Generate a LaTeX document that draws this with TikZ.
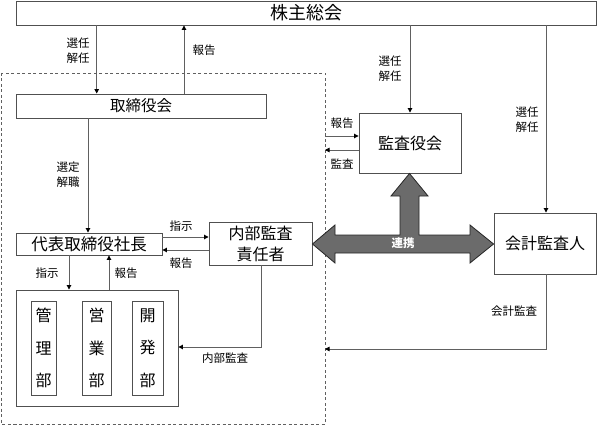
\documentclass[tikz,border=0pt]{standalone}
\usepackage{fontspec}
\setmainfont{Noto Sans CJK JP}
\usetikzlibrary{arrows.meta}
\definecolor{linegray}{HTML}{606060}
\definecolor{boxgray}{HTML}{505050}
\definecolor{bigarrow}{HTML}{6B6B6B}
\tikzset{
  box/.style={draw=boxgray, line width=0.9pt, fill=white, inner sep=0pt},
  conn/.style={draw=linegray, line width=0.9pt},
  arr/.style={conn, -{Triangle[length=4.5pt,width=4.5pt,color=black]}},
  lbl/.style={font=\fontsize{11.5}{15}\selectfont, inner sep=0pt, align=left},
  boxtext/.style={font=\fontsize{16}{19}\selectfont},
  dept/.style={box, minimum height=94pt, align=center, font=\fontsize{16}{32.5}\selectfont},
}
\begin{document}
\begin{tikzpicture}[x=1pt,y=-1pt]
\useasboundingbox (0,0) rectangle (597,425);
% dashed company frame
\draw[draw=linegray, line width=0.8pt, dash pattern=on 3pt off 2.5pt] (1.5,73) rectangle (325,424);
% boxes
\node[box, minimum width=580pt, minimum height=24pt, font=\fontsize{18}{20}\selectfont] (soukai) at (306,13) {株主総会};
\node[box, minimum width=250pt, minimum height=24pt, font=\fontsize{15.5}{18}\selectfont] (tori) at (141,106) {取締役会};
\node[box, minimum width=146pt, minimum height=22pt, font=\fontsize{16.5}{18}\selectfont] (daihyo) at (89,244) {代表取締役社長};
\node[box, minimum width=103pt, minimum height=43pt, align=center, font=\fontsize{16}{21}\selectfont] (naibu) at (260.5,243.5) {内部監査\\責任者};
\node[box, minimum width=102pt, minimum height=60pt, boxtext] (kansa) at (410,143) {監査役会};
\node[box, minimum width=102pt, minimum height=61pt, boxtext] (kaikei) at (545,243.5) {会計監査人};
\node[box, minimum width=162pt, minimum height=116pt] (bumon) at (97,348) {};
\node[dept, minimum width=25pt] (kanri) at (43.5,348) {管\\理\\部};
\node[dept, minimum width=29pt] (eigyo) at (96.5,348) {営\\業\\部};
\node[dept, minimum width=31pt] (kaihatsu) at (147.5,348) {開\\発\\部};
% connectors
\draw[arr] (soukai.south -| 96.7,0) -- (tori.north -| 96.7,0);
\draw[arr] (tori.north -| 184,0) -- (soukai.south -| 184,0);
\node[lbl] (l1) at (78,50.5) {選任\\解任};
\node[lbl] (l2) at (204,50) {報告};
\draw[arr] (tori.south -| 88,0) -- (daihyo.north -| 88,0);
\node[lbl] (l3) at (68,175) {選定\\解職};
\draw[arr] (daihyo.east |- 0,237) -- (naibu.west |- 0,237);
\draw[arr] (naibu.west |- 0,250) -- (daihyo.east |- 0,250);
\node[lbl] (l4) at (181,226) {指示};
\node[lbl] (l5) at (181,263) {報告};
\draw[arr] (daihyo.south -| 69,0) -- (bumon.north -| 69,0);
\draw[arr] (bumon.north -| 109,0) -- (daihyo.south -| 109,0);
\node[lbl] (l6) at (47,273) {指示};
\node[lbl] (l7) at (126,273) {報告};
\draw[arr] (naibu.south -| 261,0) -- (261,347) -- (bumon.east |- 0,347);
\node[lbl] (l8) at (225,358) {内部監査};
\draw[arr] (soukai.south -| 410,0) -- (kansa.north -| 410,0);
\node[lbl] (l9) at (390,69) {選任\\解任};
\draw[arr] (soukai.south -| 546,0) -- (kaikei.north -| 546,0);
\node[lbl] (l10) at (527,120) {選任\\解任};
\coordinate (frameR1) at (325,136);
\coordinate (frameR2) at (325,150);
\coordinate (frameR3) at (325,349);
\draw[arr] (frameR1) -- (kansa.west |- frameR1);
\draw[arr] (kansa.west |- frameR2) -- (frameR2);
\node[lbl] (l11) at (342,123) {報告};
\node[lbl] (l12) at (342,164) {監査};
\draw[arr] (kaikei.south -| 546,0) -- (546,349) -- (frameR3);
\node[lbl] (l13) at (514,311) {会計監査};
% cooperation arrow
\draw[fill=bigarrow, draw=black!85, line width=0.8pt, line join=miter]
  (naibu.east |- 0,244) -- (335,225) -- (335,235) -- (400,235) -- (400,196) -- (391,196)
  -- (kansa.south -| 409.5,0) -- (428,196) -- (419,196) -- (419,235) -- (470,235) -- (470,225)
  -- (kaikei.west |- 0,244) -- (470,263) -- (470,253) -- (335,253) -- (335,263) -- cycle;
\node[font=\fontsize{11.5}{12}\selectfont\bfseries, text=white, inner sep=0pt] (renkei) at (403,243.5) {連携};
\end{tikzpicture}
\end{document}
